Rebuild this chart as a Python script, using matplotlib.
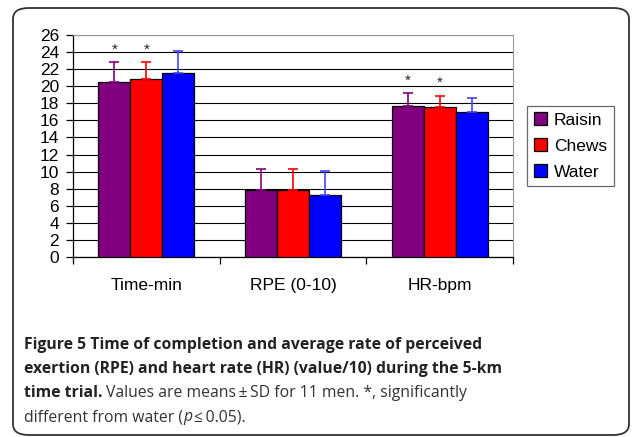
import matplotlib
matplotlib.use("Agg")
import matplotlib.pyplot as plt
import numpy as np
from matplotlib.patches import FancyBboxPatch

categories = ["Time-min", "RPE (0-10)", "HR-bpm"]
series = ["Raisin", "Chews", "Water"]
raisin = [20.5, 7.8, 17.7]
chews = [20.8, 7.8, 17.55]
water = [21.5, 7.3, 17.0]
raisin_sd = [2.3, 2.55, 1.5]
chews_sd = [2.0, 2.55, 1.35]
water_sd = [2.6, 2.8, 1.6]
significant = [[True, False, True], [True, False, True], [False, False, False]]
yticks = list(range(0, 27, 2))

colors = ["#800080", "#FF0000", "#0000FF"]
err_colors = ["#800080", "#FF0000", "#4444FF"]

W, H = 632, 437
fig = plt.figure(figsize=(W / 100, H / 100), dpi=100)
plt.rcParams['font.family'] = ['Liberation Sans', 'DejaVu Sans']

# outer rounded frame
fig.patches.append(FancyBboxPatch((13 / W, 2 / H), 616 / W, 427 / H,
                                  boxstyle="round,pad=0,rounding_size=0.025",
                                  transform=fig.transFigure, fill=False,
                                  edgecolor="#333333", linewidth=1.3))

ax = fig.add_axes([73 / W, 1 - 257 / H, 440 / W, 222 / H])
x = np.arange(len(categories))
bw = 0.218
vals = [raisin, chews, water]
sds = [raisin_sd, chews_sd, water_sd]
for i in range(3):
    xs = x + (i - 1) * bw
    ax.bar(xs, vals[i], bw, color=colors[i], edgecolor="black", linewidth=0.9,
           label=series[i], zorder=3)
    ax.errorbar(xs, vals[i], yerr=[np.zeros(3), sds[i]], fmt="none",
                ecolor=err_colors[i], elinewidth=1.2, capsize=3.5, capthick=1.2,
                zorder=4)
    for j in range(3):
        if significant[i][j]:
            ax.annotate("*", (xs[j], vals[i][j] + sds[i][j]), xytext=(0, 4),
                        textcoords="offset points", ha="center", va="bottom",
                        fontsize=11, color="#222222")

ax.set_xlim(-0.5, 2.5)
ax.set_ylim(0, 26)
ax.set_yticks(yticks)
ax.set_yticklabels([str(v) for v in yticks], fontsize=12.5)
ax.yaxis.grid(True, color="black", linewidth=0.8, zorder=0)
ax.set_axisbelow(True)
ax.tick_params(axis="y", direction="out", length=5, width=0.9, pad=5)
ax.set_xticks([-0.5, 0.5, 1.5, 2.5])
ax.set_xticklabels([])
ax.tick_params(axis="x", direction="out", length=5, width=0.9)
for j, c in enumerate(categories):
    ax.text(x[j], -3.35, c, ha="center", va="center", fontsize=12.5)
ax.spines["top"].set_color("#999999")
ax.spines["right"].set_color("#999999")
ax.spines["left"].set_linewidth(0.9)
ax.spines["bottom"].set_linewidth(0.9)

leg = ax.legend(loc="center left", bbox_to_anchor=(527 / W, 1 - 146 / H),
                bbox_transform=fig.transFigure, frameon=True, fancybox=False,
                edgecolor="#444444", fontsize=12.5, handlelength=0.75,
                handleheight=0.75, handletextpad=0.4, labelspacing=0.6,
                borderpad=0.4, borderaxespad=0)
leg.get_frame().set_linewidth(0.9)

# caption
cap_font = ['Open Sans', 'DejaVu Sans']
fs = 11.3
fig.canvas.draw()
renderer = fig.canvas.get_renderer()

def put(xpix, ypix, s, weight="normal", style="normal"):
    t = fig.text(xpix / W, 1 - ypix / H, s, fontsize=fs, family=cap_font,
                 weight=weight, style=style, color="#222222" if weight == "bold" else "#333333",
                 ha="left", va="baseline")
    bb = t.get_window_extent(renderer=renderer)
    return xpix + bb.width

put(24, 349, "Figure 5 Time of completion and average rate of perceived", weight="bold")
put(24, 373, "exertion (RPE) and heart rate (HR) (value/10) during the 5-km", weight="bold")
xx = put(24, 397, "time trial.", weight="bold")
put(xx + 4, 397, "Values are means\u2009\u00b1\u2009SD for 11 men. *, significantly")
xx = put(24, 421, "different from water (")
xx = put(xx, 421, "p", style="italic")
put(xx + 2, 421, "\u2264\u20090.05).")

fig.savefig("out.png", dpi=100)
